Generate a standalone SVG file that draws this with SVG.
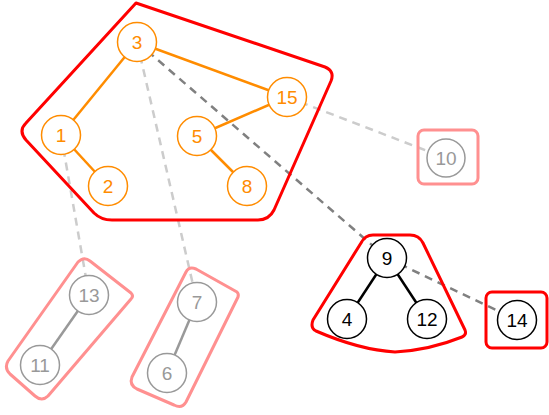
<svg xmlns="http://www.w3.org/2000/svg" width="549" height="415" viewBox="0 0 549 415">
<style>
.hull{fill:none;stroke:#ff0000;stroke-width:3;stroke-linejoin:round}
.hullf{fill:none;stroke:#ff9090;stroke-width:3;stroke-linejoin:round}
.dd{stroke:#808080;stroke-width:2.5;stroke-dasharray:8,6;fill:none}
.dl{stroke:#cccccc;stroke-width:2.5;stroke-dasharray:8,6;fill:none}
.eo{stroke:#ff8c00;stroke-width:2.5}
.ek{stroke:#000;stroke-width:2.5}
.eg{stroke:#999;stroke-width:2.5}
.no circle{fill:#fff;stroke:#ff8c00;stroke-width:1.5}
.no text{fill:#ff8c00}
.nk circle{fill:#fff;stroke:#000;stroke-width:1.5}
.nk text{fill:#000}
.ng circle{fill:#fff;stroke:#999;stroke-width:1.5}
.ng text{fill:#999}
text{font-family:"Liberation Sans",Arial,sans-serif;font-size:19px;text-anchor:middle;dominant-baseline:central}
</style>
<rect width="549" height="415" fill="#fff"/>
<g id="connectors">
<line class="dl" x1="287" y1="97" x2="443" y2="157"/>
<line class="dl" x1="61" y1="135" x2="89" y2="295"/>
<line class="dl" x1="137" y1="42" x2="197" y2="302"/>
<line class="dd" x1="137" y1="42" x2="387" y2="258"/>
<line class="dd" x1="387" y1="258" x2="517" y2="320"/>
<line class="eo" x1="137" y1="42" x2="61" y2="135"/>
<line class="eo" x1="137" y1="42" x2="287" y2="97"/>
<line class="eo" x1="61" y1="135" x2="108" y2="186"/>
<line class="eo" x1="287" y1="97" x2="197" y2="136"/>
<line class="eo" x1="197" y1="136" x2="247" y2="186"/>
<line class="ek" x1="387" y1="258" x2="347" y2="319"/>
<line class="ek" x1="387" y1="258" x2="427" y2="319"/>
<line class="eg" x1="89" y1="295" x2="40" y2="365"/>
<line class="eg" x1="197" y1="302" x2="167" y2="373"/>
</g>
<g id="hulls">
<path id="hull-main" class="hull" d="M136,3 L325,67 Q335,71 331,81 L274,210 Q269,220 258,220 L112,220 Q101,220 94,213 L26,140 Q18,131 26,123 Z"/>
<path id="hull-9" class="hull" d="M373,235 L410,235 Q419,235 423,243 L465,330 Q467,335 462,337 Q430,350 395,352 Q360,350 316,331 Q310,328 313,320 L361,243 Q365,235 373,235 Z"/>
<rect id="hull-14" class="hull" x="486" y="292" width="61" height="56" rx="6"/>
<rect id="hull-10" class="hullf" x="418" y="130" width="60" height="54" rx="6"/>
<path id="hull-13" class="hullf" d="M78,262 Q84,256 90,261 L131,293 Q134,296 131,299 L48,396 Q42,402 35,396 L10,374 Q4,368 8,361 Z"/>
<path id="hull-7" class="hullf" d="M186,272 Q189,266 196,269 L237,292 Q239,294 238,297 L186,402 Q182,409 174,405 L137,389 Q129,385 132,377 Z"/>
</g>
<g id="n3" class="no"><circle cx="137" cy="42" r="19.5"/><text x="137" y="42">3</text></g>
<g id="n1" class="no"><circle cx="61" cy="135" r="19.5"/><text x="61" y="135">1</text></g>
<g id="n2" class="no"><circle cx="108" cy="186" r="19.5"/><text x="108" y="186">2</text></g>
<g id="n15" class="no"><circle cx="287" cy="97" r="19.5"/><text x="287" y="97">15</text></g>
<g id="n5" class="no"><circle cx="197" cy="136" r="19.5"/><text x="197" y="136">5</text></g>
<g id="n8" class="no"><circle cx="247" cy="186" r="19.5"/><text x="247" y="186">8</text></g>
<g id="n10" class="ng"><circle cx="446" cy="158" r="19"/><text x="446" y="158">10</text></g>
<g id="n9" class="nk"><circle cx="387" cy="258" r="19.5"/><text x="387" y="258">9</text></g>
<g id="n4" class="nk"><circle cx="347" cy="319" r="19.5"/><text x="347" y="319">4</text></g>
<g id="n12" class="nk"><circle cx="427" cy="319" r="19.5"/><text x="427" y="319">12</text></g>
<g id="n14" class="nk"><circle cx="517" cy="320" r="19.5"/><text x="517" y="320">14</text></g>
<g id="n13" class="ng"><circle cx="89" cy="295" r="19.5"/><text x="89" y="295">13</text></g>
<g id="n11" class="ng"><circle cx="40" cy="365" r="19.5"/><text x="40" y="365">11</text></g>
<g id="n7" class="ng"><circle cx="197" cy="302" r="19.5"/><text x="197" y="302">7</text></g>
<g id="n6" class="ng"><circle cx="167" cy="373" r="19.5"/><text x="167" y="373">6</text></g>
</svg>
